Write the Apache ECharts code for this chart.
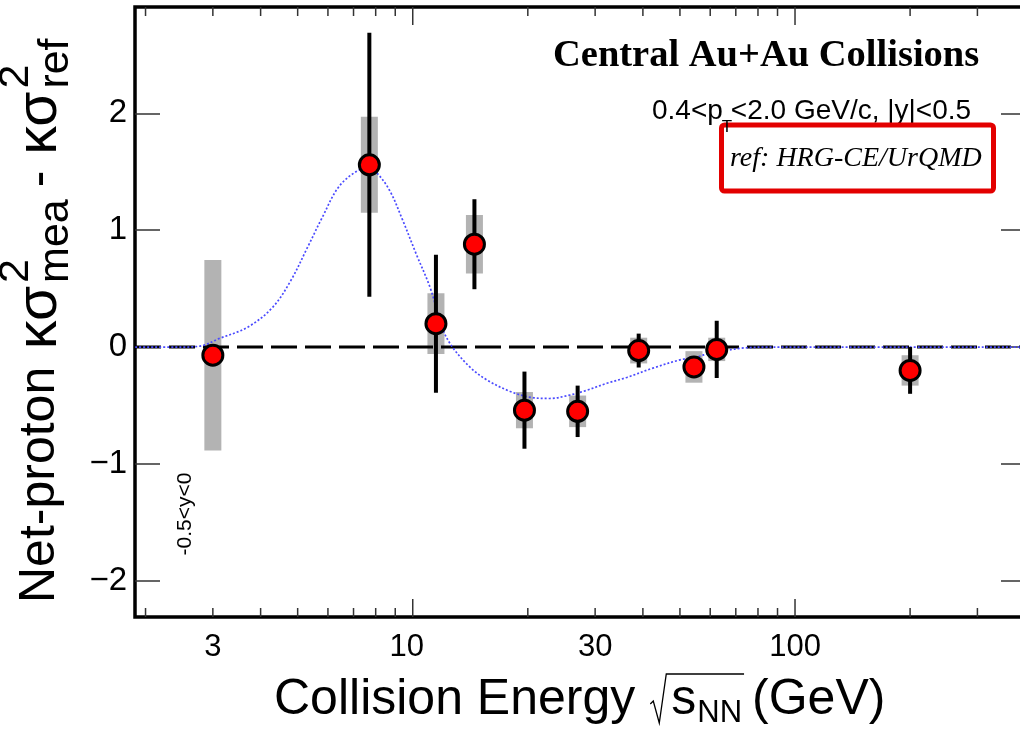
<!DOCTYPE html>
<html>
<head>
<meta charset="utf-8">
<script src="https://cdn.jsdelivr.net/npm/echarts@6/dist/echarts.min.js"></script>
<style>
  html, body { margin: 0; padding: 0; background: #ffffff; }
  #chart { width: 1020px; height: 731px; }
</style>
</head>
<body>
<div id="chart"></div>
<script>
// ---- data -------------------------------------------------------------
// Collision energies sqrt(s_NN) in GeV
const energies = [3.0, 7.7, 11.5, 14.5, 19.6, 27, 39, 54.4, 62.4, 200];
// Net-proton kappa*sigma^2 (measured) minus reference
const deltaKS  = [-0.07, 1.56, 0.20, 0.88, -0.54, -0.55, -0.03, -0.17, -0.02, -0.20];
// Statistical uncertainties (half length of the black bars)
const statErr  = [0.06, 1.13, 0.59, 0.385, 0.33, 0.22, 0.145, 0.07, 0.245, 0.20];
// Systematic uncertainties (half height of the grey boxes)
const sysErr   = [0.815, 0.41, 0.26, 0.25, 0.155, 0.135, 0.11, 0.135, 0.10, 0.13];

// Reference model curve (blue dotted)
const curveEnergy = [1.88, 2.5, 2.8, 3.1, 3.7, 4.3, 4.8, 5.3, 5.8, 6.4, 7.1, 7.6, 8.0, 8.7, 9.4,
                     10.2, 11.1, 12.0, 12.7, 14.1, 15.6, 18.0, 20.3, 22.8, 25.8, 28.5, 32.2,
                     36.3, 42.5, 50.0, 55.4, 60, 66, 72, 85, 402];
const curveValue  = [0, 0, 0.01, 0.07, 0.17, 0.34, 0.57, 0.85, 1.11, 1.37, 1.50, 1.53, 1.50, 1.34, 1.09,
                     0.80, 0.51, 0.15, 0.0, -0.17, -0.28, -0.38, -0.43, -0.44, -0.41, -0.37, -0.31,
                     -0.26, -0.18, -0.11, -0.085, -0.05, -0.03, -0.01, 0, 0];

// Axis ticks and labels
const xMinorTicks = [2, 3, 4, 5, 6, 7, 8, 9, 20, 30, 40, 50, 60, 70, 80, 90, 200, 300];
const xMajorTicks = [10, 100];
const xTickLabels = [3, 10, 30, 100];
const yTickLabels = [-2, -1, 0, 1, 2];

// Axis ranges
const X_MIN = 1.877, X_MAX = 402;
const Y_MIN = -2.31, Y_MAX = 2.91;

// ---- helpers ------------------------------------------------------------
const SANS = '"Liberation Sans", Arial, Helvetica, sans-serif';
const SERIF = '"Liberation Serif", "Times New Roman", serif';
const measCtx = document.createElement('canvas').getContext('2d');
function textWidth(t, font) { measCtx.font = font; return measCtx.measureText(t).width; }

function txt(t, x, y, font, opts) {
  opts = opts || {};
  return {
    type: 'text', x: x, y: y, rotation: opts.rotation || 0,
    style: { text: t, font: font, fill: '#000',
             align: opts.align || 'left', verticalAlign: 'middle',
             textAlign: opts.align || 'left', textVerticalAlign: 'middle' }
  };
}

// y-axis title: Net-proton κσ²_mea - κσ²_ref (laid out horizontally, then rotated)
function yTitle() {
  const big = '50px ' + SANS, greek = '57px ' + SANS, small = '43px ' + SANS;
  const kids = [];
  let x = 0;
  kids.push(txt('Net-proton ', x, 0, big));
  x += textWidth('Net-proton ', big) + 4;
  kids.push(txt('κσ', x, 0, greek));
  x += textWidth('κσ', greek) + 3;
  kids.push(txt('2', x, -24, small));
  kids.push(txt('mea', x, 16, small));
  x += textWidth('mea', small) + 12;
  kids.push(txt('-', x, 0, big));
  x += textWidth('-', big) + 16;
  kids.push(txt('κσ', x, 0, greek));
  x += textWidth('κσ', greek) + 3;
  kids.push(txt('2', x, -24, small));
  kids.push(txt('ref', x, 16, small));
  return { type: 'group', x: 40, y: 603, rotation: Math.PI / 2, children: kids };
}

// x-axis title: Collision Energy √s_NN (GeV)
function xTitle() {
  const big = '50px ' + SANS, small = '31px ' + SANS;
  const y = 700, x0 = 274;
  const kids = [];
  const p1 = 'Collision Energy';
  kids.push(txt(p1, x0, y, big));
  let x = x0 + textWidth(p1, big) + 20;
  const rx = x;
  x += 16;
  kids.push(txt('s', x, y, big));
  x += textWidth('s', big) + 1;
  kids.push(txt('NN', x, y + 13, small));
  x += textWidth('NN', small) + 2;
  const overEnd = x;
  kids.push({
    type: 'polyline',
    shape: { points: [[rx - 5, y + 4], [rx - 2, y + 1], [rx + 4, y + 23], [rx + 11, y - 26], [overEnd, y - 26]] },
    style: { stroke: '#000', lineWidth: 1.3, fill: null }
  });
  x += 8;
  kids.push(txt('(GeV)', x, y, big));
  return { type: 'group', children: kids };
}

// kinematic cuts: 0.4<p_T<2.0 GeV/c, |y|<0.5
function kinematicsLabel() {
  const big = '28px ' + SANS, sub = '17px ' + SANS;
  const kids = [];
  let x = 652; const y = 111;
  kids.push(txt('0.4<p', x, y, big));
  x += textWidth('0.4<p', big);
  const tx = x - 1;
  x += 8;
  kids.push(txt('<2.0 GeV/c, |y|<0.5', x, y, big));
  return { kids: kids, sub: txt('T', tx, 127, sub) };
}

// ---- render functions -------------------------------------------------------
function renderXTicks(params, api) {
  const v = api.value(0), major = api.value(1);
  const b = api.coord([v, Y_MIN]), t = api.coord([v, Y_MAX]);
  const len = major ? 18 : 9;
  const st = { stroke: '#333', lineWidth: 1.5 };
  return { type: 'group', children: [
    { type: 'line', shape: { x1: b[0], y1: b[1], x2: b[0], y2: b[1] - len }, style: st },
    { type: 'line', shape: { x1: t[0], y1: t[1], x2: t[0], y2: t[1] + len }, style: st }
  ]};
}

function renderXLabels(params, api) {
  const v = api.value(0);
  const p = api.coord([v, Y_MIN]);
  return { type: 'text', x: p[0] - (v === 10 ? 6 : 0), y: p[1] + 30,
    style: { text: String(v), font: '31px ' + SANS, fill: '#000',
             align: 'center', verticalAlign: 'middle', textAlign: 'center', textVerticalAlign: 'middle' } };
}

function renderSys(params, api) {
  const e = api.value(0), v = api.value(1), s = api.value(3);
  const top = api.coord([e, v + s]), bot = api.coord([e, v - s]);
  const w = 17;
  return { type: 'rect', shape: { x: top[0] - w / 2, y: top[1], width: w, height: bot[1] - top[1] },
           style: { fill: '#b3b3b3' } };
}

function renderStat(params, api) {
  const e = api.value(0), v = api.value(1), s = api.value(2);
  const top = api.coord([e, v + s]), bot = api.coord([e, v - s]);
  return { type: 'line', shape: { x1: top[0], y1: top[1], x2: bot[0], y2: bot[1] },
           style: { stroke: '#000', lineWidth: 4 } };
}

// ---- chart -----------------------------------------------------------------
const points = energies.map((e, i) => [e, deltaKS[i], statErr[i], sysErr[i]]);
const tickData = xMinorTicks.map(v => [v, 0]).concat(xMajorTicks.map(v => [v, 1]));
const kin = kinematicsLabel();

const chart = echarts.init(document.getElementById('chart'), null, { renderer: 'canvas' });
chart.setOption({
  animation: false,
  backgroundColor: '#ffffff',
  grid: { left: 135, top: 7, right: -6, bottom: 114, show: true, containLabel: false,
          outerBoundsMode: 'none',
          borderColor: '#000', borderWidth: 3.5, backgroundColor: 'transparent' },
  xAxis: {
    type: 'log', logBase: 10, min: X_MIN, max: X_MAX,
    axisLine: { show: false }, axisTick: { show: false }, axisLabel: { show: false },
    splitLine: { show: false }, minorTick: { show: false }
  },
  yAxis: [{
    type: 'value', min: Y_MIN, max: Y_MAX,
    axisLine: { show: false },
    axisTick: { show: true, inside: true, length: 25, customValues: yTickLabels,
                lineStyle: { color: '#333', width: 1.5 } },
    axisLabel: { show: true, margin: 8, fontSize: 33, fontFamily: SANS, color: '#000',
                 customValues: yTickLabels,
                 formatter: v => (Math.abs(v - Math.round(v)) > 1e-6 ? '' : String(Math.round(v)).replace('-', '\u2212')) },
    splitLine: { show: false }
  }, {
    type: 'value', min: Y_MIN, max: Y_MAX, position: 'right',
    axisLine: { show: false },
    axisTick: { show: true, inside: true, length: 25, customValues: yTickLabels,
                lineStyle: { color: '#333', width: 1.5 } },
    axisLabel: { show: false }, splitLine: { show: false }
  }],
  series: [
    { type: 'custom', name: 'sys', data: points, renderItem: renderSys, z: 1, silent: true },
    { type: 'line', name: 'zero', data: [[X_MIN, 0], [X_MAX, 0]], symbol: 'none', z: 2, silent: true,
      lineStyle: { color: '#000', width: 3, type: [26, 8] } },
    { type: 'line', name: 'reference', data: curveEnergy.map((e, i) => [e, curveValue[i]]),
      symbol: 'none', smooth: 0.35, z: 3, silent: true,
      lineStyle: { color: '#4a4aff', width: 1.7, type: [2, 2] } },
    { type: 'custom', name: 'stat', data: points, renderItem: renderStat, z: 4, silent: true },
    { type: 'scatter', name: 'data', data: points.map(p => [p[0], p[1]]), z: 5, silent: true,
      symbol: 'circle', symbolSize: 20,
      itemStyle: { color: '#ff0000', borderColor: '#000', borderWidth: 3, opacity: 1 } },
    { type: 'custom', name: 'xticks', data: tickData, renderItem: renderXTicks, z: 6, silent: true, clip: false },
    { type: 'custom', name: 'xlabels', data: xTickLabels.map(v => [v, 0]), renderItem: renderXLabels,
      z: 6, silent: true, clip: false }
  ],
  graphic: [
    yTitle(),
    xTitle(),
    txt('Central Au+Au Collisions', 553, 56, 'bold 38.5px ' + SERIF),
    { type: 'group', children: kin.kids },
    { type: 'rect', shape: { x: 721.5, y: 125, width: 272, height: 66, r: 3 },
      style: { fill: null, stroke: '#e30000', lineWidth: 5 } },
    kin.sub,
    txt('ref: HRG-CE/UrQMD', 730, 159, 'italic 28px ' + SERIF),
    txt('-0.5<y<0', 185, 514, '21px ' + SANS, { rotation: Math.PI / 2, align: 'center' })
  ]
});
</script>
</body>
</html>
